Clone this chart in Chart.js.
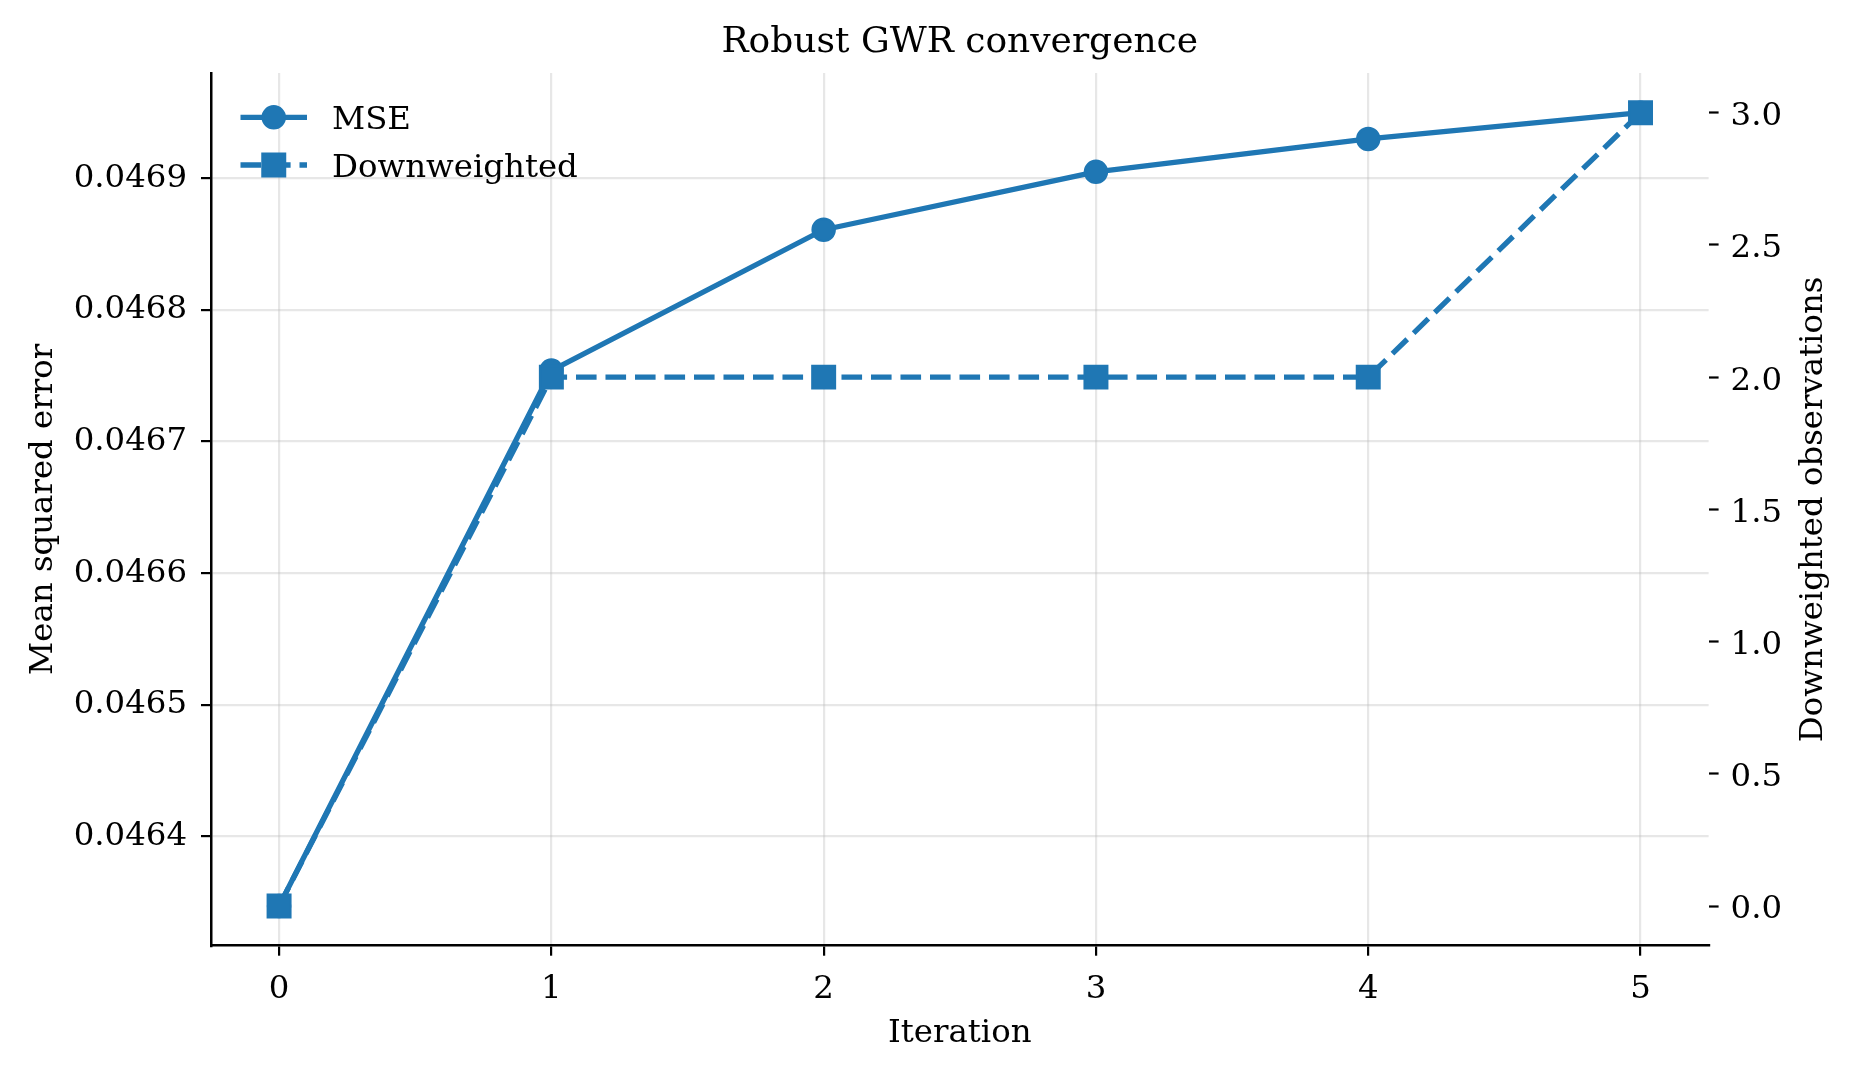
<!DOCTYPE html>
<html>
<head>
<meta charset="utf-8">
<title>Robust GWR convergence</title>
<script src="https://cdn.jsdelivr.net/npm/chart.js@4.4.1/dist/chart.umd.min.js"></script>
<style>
  html, body { margin: 0; padding: 0; background: #ffffff; }
  #wrap { width: 1856px; height: 1075px; }
</style>
</head>
<body>
<div id="wrap"><canvas id="gwrChart"></canvas></div>
<script>
// values
const iterations = [0, 1, 2, 3, 4, 5];
const mseValues = [0.046347, 0.046754, 0.046861, 0.046905, 0.046930, 0.046950];
const downweightedValues = [0, 2, 2, 2, 2, 3];

const seriesLabels = ["MSE", "Downweighted"];
const xTickLabels = ["0", "1", "2", "3", "4", "5"];
const mseTicks = [0.0464, 0.0465, 0.0466, 0.0467, 0.0468, 0.0469];
const mseTickLabels = ["0.0464", "0.0465", "0.0466", "0.0467", "0.0468", "0.0469"];
const countTicks = [0, 0.5, 1, 1.5, 2, 2.5, 3];
const countTickLabels = ["0.0", "0.5", "1.0", "1.5", "2.0", "2.5", "3.0"];

const chartTitle = "Robust GWR convergence";
const xTitle = "Iteration";
const leftTitle = "Mean squared error";
const rightTitle = "Downweighted observations";

const FONT = "'DejaVu Serif', serif";
const FONT_SIZE = 32.4;
const TITLE_SIZE = 36;
const BLUE = "#1f77b4";
const GRID = "rgba(176,176,176,0.3)";

// matplotlib style 5% margins around the data
function padRange(values, frac) {
  const lo = Math.min(...values), hi = Math.max(...values);
  const m = (hi - lo) * frac;
  return { min: lo - m, max: hi + m };
}
const xRange = padRange(iterations, 0.05);
const mseRange = padRange(mseValues, 0.05);
const countRange = padRange(downweightedValues, 0.05);

// title, axis titles and the legend (matplotlib layout)
const figureText = {
  id: "figureText",
  afterDraw(chart) {
    const ctx = chart.ctx;
    const a = chart.chartArea;
    const cx = (a.left + a.right) / 2;
    const cy = (a.top + a.bottom) / 2;
    ctx.save();
    ctx.fillStyle = "#000";
    ctx.textBaseline = "alphabetic";
    ctx.textAlign = "center";
    ctx.font = TITLE_SIZE + "px " + FONT;
    ctx.fillText(chartTitle, cx, a.top - 21.3);

    ctx.font = FONT_SIZE + "px " + FONT;
    ctx.fillText(xTitle, cx, a.bottom + 96.6);

    ctx.save();
    ctx.translate(a.left - 159.3, cy);
    ctx.rotate(-Math.PI / 2);
    ctx.fillText(leftTitle, 0, 0);
    ctx.restore();

    ctx.save();
    ctx.translate(a.right + 113.1, cy);
    ctx.rotate(-Math.PI / 2);
    ctx.fillText(rightTitle, 0, 0);
    ctx.restore();

    // legend, no frame
    const lx = a.left + 29.5, handleLen = 66.5, textX = a.left + 121;
    chart.data.datasets.forEach((ds, i) => {
      const y = a.top + 44.3 + i * 47.7;
      ctx.save();
      ctx.strokeStyle = ds.borderColor;
      ctx.lineWidth = ds.borderWidth;
      ctx.lineCap = "butt";
      ctx.setLineDash(ds.borderDash || []);
      ctx.beginPath();
      ctx.moveTo(lx, y);
      ctx.lineTo(lx + handleLen, y);
      ctx.stroke();
      ctx.setLineDash([]);
      ctx.fillStyle = ds.pointBackgroundColor;
      ctx.strokeStyle = ds.pointBorderColor;
      ctx.lineWidth = ds.pointBorderWidth;
      const mx = lx + handleLen / 2;
      ctx.beginPath();
      if (ds.pointStyle === "rect") {
        const h = ds.pointRadius * Math.SQRT1_2;
        ctx.rect(mx - h, y - h, 2 * h, 2 * h);
      } else {
        ctx.arc(mx, y, ds.pointRadius, 0, Math.PI * 2);
      }
      ctx.fill();
      ctx.stroke();
      ctx.restore();
      ctx.textAlign = "left";
      ctx.fillText(ds.label, textX, y + 12);
    });
    ctx.restore();
  }
};

const tickFont = { family: FONT, size: FONT_SIZE };

new Chart(document.getElementById("gwrChart"), {
  type: "line",
  data: {
    datasets: [
      {
        label: seriesLabels[0],
        data: iterations.map((x, i) => ({ x: x, y: mseValues[i] })),
        yAxisID: "y",
        order: 1,
        borderColor: BLUE,
        backgroundColor: BLUE,
        borderWidth: 5.3,
        borderJoinStyle: "round",
        pointStyle: "circle",
        pointRadius: 11,
        pointBorderWidth: 2.5,
        pointBackgroundColor: BLUE,
        pointBorderColor: BLUE,
        tension: 0,
        fill: false
      },
      {
        label: seriesLabels[1],
        data: iterations.map((x, i) => ({ x: x, y: downweightedValues[i] })),
        yAxisID: "y2",
        order: 0,
        borderColor: BLUE,
        backgroundColor: BLUE,
        borderWidth: 5.3,
        borderDash: [20.6, 8.9],
        borderJoinStyle: "round",
        pointStyle: "rect",
        pointRadius: 15.9,
        pointBorderWidth: 2.5,
        pointBackgroundColor: BLUE,
        pointBorderColor: BLUE,
        tension: 0,
        fill: false
      }
    ]
  },
  options: {
    responsive: true,
    maintainAspectRatio: false,
    devicePixelRatio: 1,
    animation: false,
    layout: { padding: { top: 73, left: 0, right: 0, bottom: 0 } },
    plugins: {
      legend: { display: false },
      title: { display: false },
      tooltip: { enabled: false }
    },
    scales: {
      x: {
        type: "linear",
        min: xRange.min,
        max: xRange.max,
        afterBuildTicks: s => { s.ticks = iterations.map(v => ({ value: v })); },
        afterFit: s => { s.height = 129.3; },
        ticks: {
          font: tickFont,
          color: "#000",
          padding: 14,
          maxRotation: 0,
          autoSkip: false,
          callback: (v, i) => xTickLabels[i]
        },
        grid: { color: GRID, lineWidth: 2.2, tickColor: "#000", tickLength: 10, tickWidth: 2.2 },
        border: { color: "#000", width: 2.5 }
      },
      y: {
        type: "linear",
        position: "left",
        min: mseRange.min,
        max: mseRange.max,
        afterBuildTicks: s => { s.ticks = mseTicks.map(v => ({ value: v })); },
        afterFit: s => { s.width = 211; },
        ticks: {
          font: tickFont,
          color: "#000",
          padding: 14,
          autoSkip: false,
          callback: (v, i) => mseTickLabels[i]
        },
        grid: { color: GRID, lineWidth: 2.2, tickColor: "#000", tickLength: 10, tickWidth: 2.2 },
        border: { color: "#000", width: 2.5 }
      },
      y2: {
        type: "linear",
        position: "right",
        min: countRange.min,
        max: countRange.max,
        afterBuildTicks: s => { s.ticks = countTicks.map(v => ({ value: v })); },
        afterFit: s => { s.width = 147.4; },
        ticks: {
          font: tickFont,
          color: "#000",
          padding: 12,
          labelOffset: 4,
          autoSkip: false,
          callback: (v, i) => countTickLabels[i]
        },
        grid: { drawOnChartArea: false, tickColor: "#000", tickLength: 10, tickWidth: 2.2 },
        border: { display: false }
      }
    }
  },
  plugins: [figureText]
});
</script>
</body>
</html>
